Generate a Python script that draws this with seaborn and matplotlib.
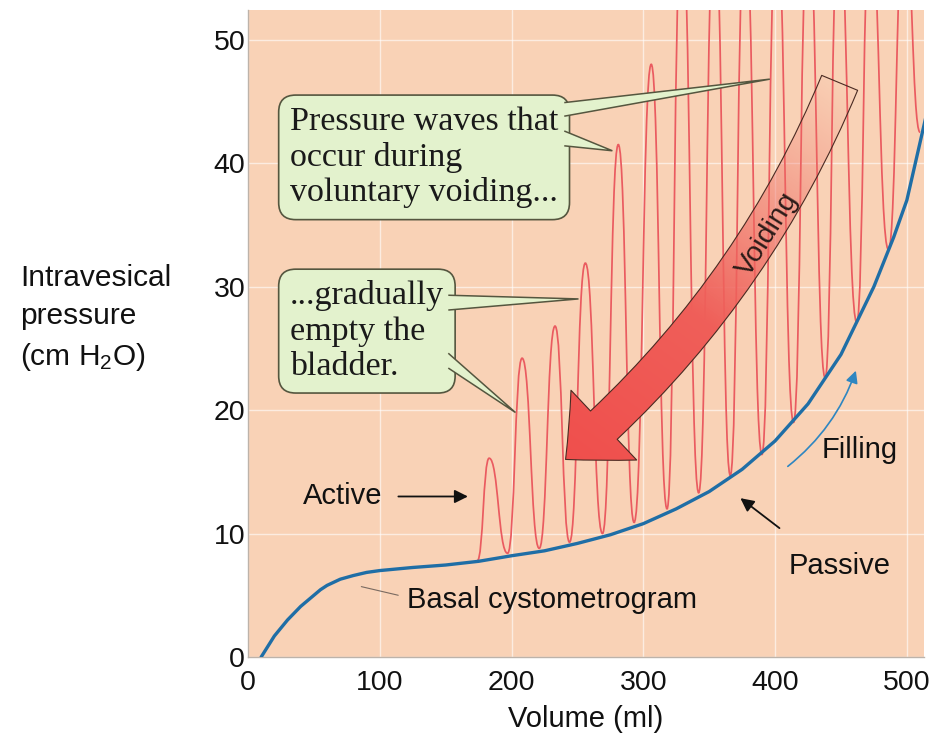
import numpy as np
import pandas as pd
import matplotlib
matplotlib.use('Agg')
import matplotlib.pyplot as plt
import seaborn as sns
from matplotlib.path import Path
from matplotlib.patches import PathPatch, FancyArrowPatch, Polygon, ArrowStyle

# Basal cystometrogram: volume (ml) tegen druk (cm H2O)
basal_vol = [10, 20, 30, 40, 50, 55, 60, 65, 70, 80, 90, 100, 125, 150, 175, 200, 225,
             250, 275, 300, 325, 350, 375, 400, 425, 450, 475, 490, 500, 515]
basal_p = [0.0, 1.7, 3.0, 4.1, 5.0, 5.45, 5.8, 6.05, 6.3, 6.6, 6.85, 7.0, 7.25, 7.45,
           7.75, 8.2, 8.6, 9.2, 9.9, 10.8, 12.0, 13.4, 15.2, 17.5, 20.5, 24.5, 30.0,
           34.0, 37.0, 44.0]

# Drukgolven tijdens mictie: afwisselend dal en top
wave_vol = [174, 183, 197, 208, 221, 233, 244, 256, 269, 281, 293, 306, 318, 329, 342,
            354, 366, 377, 390, 401, 414, 425, 438, 448, 462, 472, 486, 498, 510]
wave_p = [7.8, 16.1, 8.4, 24.2, 8.8, 26.8, 9.3, 31.9, 10.0, 41.5, 10.9, 48.0, 12.0, 60.0,
          13.3, 60.0, 14.7, 60.0, 16.4, 60.0, 19.0, 60.0, 22.6, 60.0, 27.1, 60.0, 33.0,
          60.0, 42.5]

x_ticks = [0, 100, 200, 300, 400, 500]
y_ticks = [0, 10, 20, 30, 40, 50]

peach = '#F9D2B6'
sns.set_theme(style='darkgrid', rc={'axes.facecolor': peach, 'grid.color': 'white',
                                     'grid.linewidth': 1.0})
plt.rcParams['font.family'] = ['Liberation Sans', 'DejaVu Sans']
plt.rcParams['mathtext.default'] = 'regular'

fig = plt.figure(figsize=(9.39, 7.33), dpi=100)
fig.patch.set_facecolor('white')
ax = fig.add_axes([248 / 939, 76 / 733, 676 / 939, 647 / 733])

# Blauwe basislijn
df_basal = pd.DataFrame({'Volume': basal_vol, 'Pressure': basal_p})
sns.lineplot(data=df_basal, x='Volume', y='Pressure', ax=ax, color='#1F6EA6', lw=2.4, zorder=4)

# Rode drukgolven als vloeiende curve door dalen en toppen
verts = [(wave_vol[0], wave_p[0])]
codes = [Path.MOVETO]
for i in range(1, len(wave_vol)):
    x0, y0 = wave_vol[i - 1], wave_p[i - 1]
    x1, y1 = wave_vol[i], wave_p[i]
    dx = x1 - x0
    verts += [(x0 + 0.5 * dx, y0), (x1 - 0.5 * dx, y1), (x1, y1)]
    codes += [Path.CURVE4] * 3
ax.add_patch(PathPatch(Path(verts, codes), facecolor='none', edgecolor='#EA5B60', lw=1.25, zorder=3))

ax.set_xlim(0, 513)
ax.set_ylim(0, 52.4)
ax.set_xticks(x_ticks)
ax.set_yticks(y_ticks)
ax.grid(True, color='white', alpha=0.6)
ax.tick_params(axis='both', length=0, labelsize=20.5, colors='#111111')
ax.tick_params(axis='x', pad=9)
ax.tick_params(axis='y', pad=2)
for side in ['top', 'right']:
    ax.spines[side].set_visible(False)
for side in ['left', 'bottom']:
    ax.spines[side].set_visible(True)
    ax.spines[side].set_color('#BDB3AA')
    ax.spines[side].set_linewidth(1.0)
ax.set_xlabel('Volume (ml)', fontsize=21, labelpad=7, color='#111111')
ax.set_ylabel('')

fig.text(20 / 939, 1 - 264 / 733, 'Intravesical\npressure\n(cm H$_2$O)', fontsize=21.5,
         va='top', ha='left', color='#111111', linespacing=1.45)

# Voiding pijl met kleurverloop
arrow_start = (449, 46.5)
arrow_tip = (241, 16.0)
style = ArrowStyle.Simple(head_length=3.7, head_width=6.9, tail_width=2.8)
arc = 'arc3,rad=-0.12'
clip_arrow = FancyArrowPatch(arrow_start, arrow_tip, arrowstyle=style,
                             connectionstyle=arc,
                             mutation_scale=10 * fig.dpi / 72, shrinkA=0, shrinkB=0,
                             transform=ax.transData)
p_tip = ax.transData.transform(arrow_tip)
p_start = ax.transData.transform(arrow_start)
gx = np.linspace(0, 513, 500)
gy = np.linspace(0, 52.4, 400)
GX, GY = np.meshgrid(gx, gy)
pts = ax.transData.transform(np.column_stack([GX.ravel(), GY.ravel()]))
d = p_start - p_tip
t = ((pts - p_tip) @ d) / (d @ d)
t = t.reshape(GX.shape)
alpha = np.clip(1.0 - (t - 0.42) / 0.58 * 0.97, 0.03, 1.0)
rgba = np.zeros(GX.shape + (4,))
rgba[..., 0] = 0.94
rgba[..., 1] = 0.31 + 0.15 * np.clip(t, 0, 1)
rgba[..., 2] = 0.30 + 0.12 * np.clip(t, 0, 1)
rgba[..., 3] = alpha
im = ax.imshow(rgba, extent=[0, 513, 0, 52.4], origin='lower', aspect='auto', zorder=7,
               interpolation='bilinear')
im.set_clip_path(clip_arrow)
outline = FancyArrowPatch(arrow_start, arrow_tip, arrowstyle=style,
                          connectionstyle=arc, mutation_scale=10,
                          shrinkA=0, shrinkB=0, facecolor='none', edgecolor='#4A2A22',
                          lw=0.8, zorder=8)
ax.add_patch(outline)
ax.set_xlim(0, 513)
ax.set_ylim(0, 52.4)
ax.text(394, 34.2, 'Voiding', rotation=58, ha='center', va='center', fontsize=20.5,
        color='#2B1B18', zorder=9, rotation_mode='anchor')

# Tekstballonnen
box_style = dict(boxstyle='round,pad=0.33,rounding_size=0.5', fc='#E3F2CD', ec='#55563F', lw=1.2)
ax.text(31.8, 44.6, 'Pressure waves that\noccur during\nvoluntary voiding...',
        family=['Liberation Serif'], fontsize=24.5, va='top', ha='left', color='#1A1A1A',
        bbox=box_style, zorder=10, linespacing=1.2)
ax.text(31.8, 30.5, '...gradually\nempty the\nbladder.',
        family=['Liberation Serif'], fontsize=24.5, va='top', ha='left', color='#1A1A1A',
        bbox=box_style, zorder=10, linespacing=1.2)
callouts = [
    [(240, 44.9), (396, 46.8), (240, 43.8)],
    [(240, 42.6), (276.5, 41.0), (240, 41.4)],
    [(152, 29.3), (250.8, 29.0), (152, 28.1)],
    [(152, 24.6), (203, 19.8), (152, 23.4)],
]
for pts_c in callouts:
    ax.add_patch(Polygon(pts_c, closed=False, facecolor='#E3F2CD', edgecolor='#55563F',
                         lw=1.1, zorder=11))

# Labels met pijlen
ax.text(72, 13.0, 'Active', ha='center', va='center', fontsize=21, color='#111111')
ax.annotate('', xy=(169, 13.0), xytext=(112, 13.0),
            arrowprops=dict(arrowstyle='-|>', color='#111111', lw=1.3, mutation_scale=20))
ax.text(449, 7.4, 'Passive', ha='center', va='center', fontsize=21, color='#111111')
ax.annotate('', xy=(372, 13.0), xytext=(405, 10.3),
            arrowprops=dict(arrowstyle='-|>', color='#111111', lw=1.3, mutation_scale=20))
ax.text(464, 16.8, 'Filling', ha='center', va='center', fontsize=21, color='#111111')
ax.annotate('', xy=(462, 23.4), xytext=(408, 15.3),
            arrowprops=dict(arrowstyle='-|>', color='#2E86C1', lw=1.2, mutation_scale=18,
                            connectionstyle='arc3,rad=0.15'))
ax.text(121, 4.6, 'Basal cystometrogram', ha='left', va='center', fontsize=21, color='#111111')
ax.plot([86, 114], [5.7, 5.0], color='#7A6A60', lw=0.8)

plt.savefig('out.png', dpi=100)
